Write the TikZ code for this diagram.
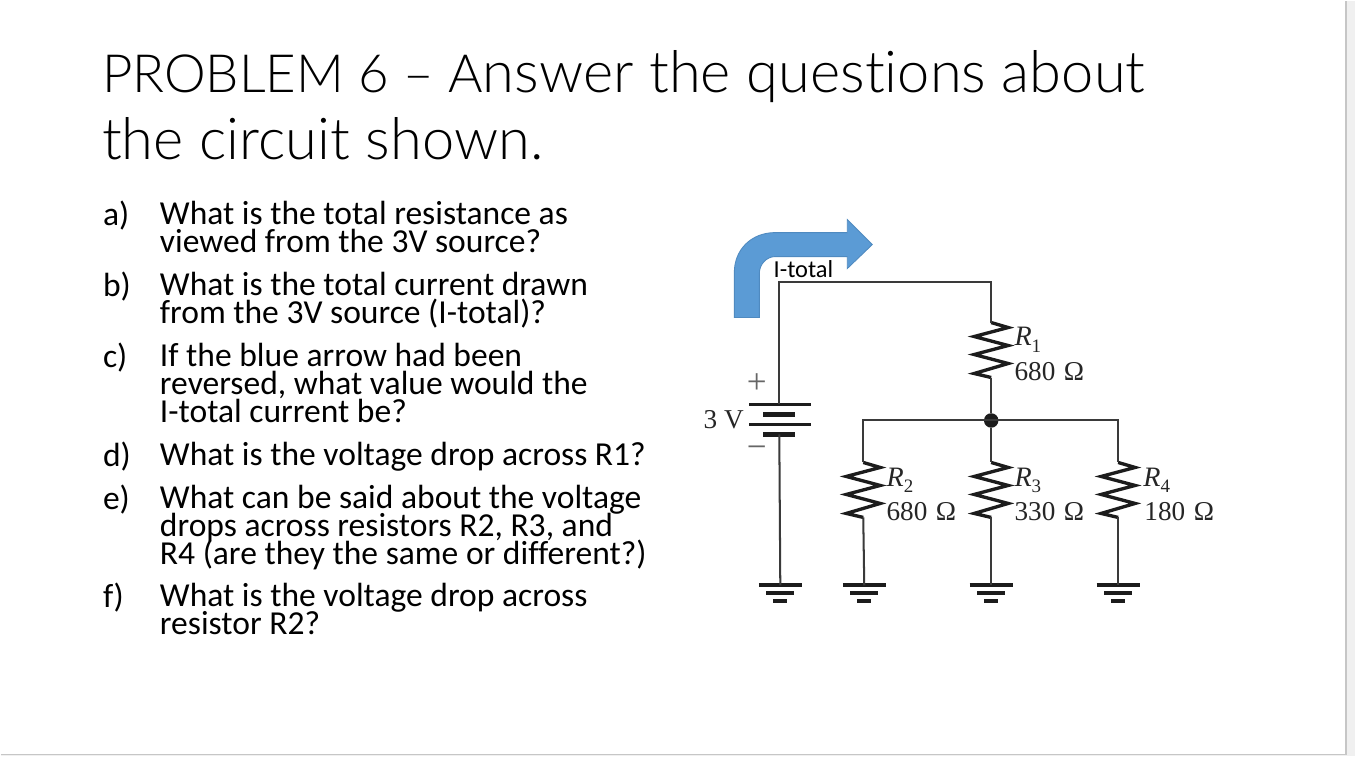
\documentclass[tikz,border=0pt]{standalone}
\usepackage{fontspec}
\setmainfont{Carlito}[Ligatures=CommonOff]
\newfontfamily\titlefont{Lato Light}[Ligatures=CommonOff]
\newfontfamily\serifvalue{Liberation Serif}
\definecolor{slidegray}{HTML}{F0F0F0}
\definecolor{slideline}{HTML}{C6C6C6}
\definecolor{arrowblue}{HTML}{5B9BD5}
\definecolor{arrowedge}{HTML}{4F8AC0}
\definecolor{wirecol}{HTML}{3A3A3A}
\definecolor{symcol}{HTML}{1C1C1C}
\newcommand{\rname}[1]{\textit{R}\raisebox{-3.7pt}{\fontsize{10.8}{11}\selectfont #1}}
\newcommand{\ohmval}[1]{#1\ \kern1pt Ω}
\newcommand{\tightlines}{\lineskiplimit=-100pt\relax}
\newcommand{\titlecaps}[1]{{\fontsize{30}{38}\selectfont #1}}
\tikzset{
  titleline/.style={anchor=base west, inner sep=0pt, font=\titlefont\fontsize{32.9}{38}\selectfont, text=black},
  itemlabel/.style={anchor=north west, inner sep=0pt, font=\fontsize{19.1}{15.9}\selectfont\tightlines},
  itemtext/.style={anchor=north west, inner sep=0pt, align=left, font=\fontsize{19.1}{15.9}\selectfont\tightlines},
  valuelabel/.style={anchor=base west, inner sep=0pt, font=\serifvalue\fontsize{15.5}{16}\selectfont, text=black!85},
  rlabel/.style={anchor=base west, inner sep=0pt, font=\serifvalue\fontsize{16}{16}\selectfont, text=black!85},
  signlabel/.style={inner sep=0pt, font=\serifvalue\fontsize{20}{20}\selectfont, text=black!60},
  wire/.style={draw=wirecol, line width=1.15pt},
  thinplate/.style={draw=symcol, line width=2.2pt},
  thickplate/.style={draw=symcol, line width=2.9pt},
  resistor/.pic={
    \draw[draw=symcol, line width=1.9pt] (0,0) -- (17,5) -- (-17,14) -- (17,23) -- (-17,32) -- (17,41) -- (-17,51) -- (0,55);
    \coordinate (-top) at (0,0);
    \coordinate (-bot) at (0,55);
  },
  ground/.pic={
    \coordinate (-top) at (0,0);
    \draw[thinplate] (-21.5,0) -- (21.5,0);
    \draw[thinplate] (-14,8) -- (14,8);
    \draw[thinplate] (-7,16) -- (7,16);
  }
}
\begin{document}
\begin{tikzpicture}[x=0.02cm,y=-0.02cm]
      % slide
      \fill[slidegray] (0,0) rectangle (1355,756);
      \fill[white] (0,0) rectangle (1346,754);
      \draw[slideline, line width=0.8pt] (0,754) -- (1346,754) -- (1346,0);

      % title
      \node[titleline] (TitleA) at (101,92.3) {\titlecaps{PROBLEM 6 – A}nswer the questions about};
      \node[titleline] (TitleB) at (101,158.5) {the circuit shown.};

      % questions
      \node[itemlabel] (LabA) at (102,200.4) {\strut a)};
      \node[itemtext] (TextA) at (159,200.4) {\strut What is the total resistance as\\viewed from the 3V source?};
      \node[itemlabel] (LabB) at (102,271.4) {\strut b)};
      \node[itemtext] (TextB) at (159,271.4) {\strut What is the total current drawn\\from the 3V source (I-total)?};
      \node[itemlabel] (LabC) at (102,342.4) {\strut c)};
      \node[itemtext] (TextC) at (159,342.4) {\strut If the blue arrow had been\\reversed, what value would the\\I-total current be?};
      \node[itemlabel] (LabD) at (102,441) {\strut d)};
      \node[itemtext] (TextD) at (159,441) {\strut What is the voltage drop across R1?};
      \node[itemlabel] (LabE) at (102,484.4) {\strut e)};
      \node[itemtext] (TextE) at (159,484.4) {\strut What can be said about the voltage\\drops across resistors R2, R3, and\\R4 (are they the same or different?)};
      \node[itemlabel] (LabF) at (102,582.4) {\strut f)};
      \node[itemtext] (TextF) at (159,582.4) {\strut What is the voltage drop across\\resistor R2?};

      % blue arrow
      \filldraw[fill=arrowblue, draw=arrowedge, line width=0.5pt] (734,317) -- (734,272) .. controls (734,249) and (751,232) .. (775,232) -- (847,232) -- (847,219) -- (872,244) -- (847,268) -- (847,256) -- (775,256) .. controls (766,256) and (759,264) .. (759,273) -- (759,317) -- cycle;
      \node[anchor=base west, inner sep=0pt, font=\fontsize{13.9}{14}\selectfont] (Itotal) at (773,276.5) {I-total};

      % corners and junction
      \coordinate (TopL) at (779,281);
      \coordinate (TopR) at (991,281);
      \coordinate (BatTop) at (779,404);
      \coordinate (BatBot) at (779,434);
      \coordinate (BusL) at (863,420);
      \coordinate (BusR) at (1118,420);
      \node[circle, fill=symcol, inner sep=0pt, minimum size=0.29cm] (Junc) at (991,420) {};

      \pic (Rone) at (991,322) {resistor};
      \pic (Rtwo) at (863,462) {resistor};
      \pic (Rthree) at (991,462) {resistor};
      \pic (Rfour) at (1118,462) {resistor};
      \pic (Gbat) at (780,585) {ground};
      \pic (Gtwo) at (864,585) {ground};
      \pic (Gthree) at (991,585) {ground};
      \pic (Gfour) at (1118,585) {ground};

      % battery
      \draw[thinplate] (749,404) -- (811,404);
      \draw[thickplate] (763,414) -- (795,414);
      \draw[thinplate] (749,424) -- (811,424);
      \draw[thickplate] (763,434) -- (795,434);

      % wires
      \draw[wire] (BatTop) -- (TopL) -- (TopR) -- (Rone-top);
      \draw[wire] (Rone-bot) -- (Junc);
      \draw[wire] (Rtwo-top) -- (BusL) -- (BusR) -- (Rfour-top);
      \draw[wire] (Junc) -- (Rthree-top);
      \draw[wire] (BatBot) -- (Gbat-top);
      \draw[wire] (Rtwo-bot) -- (Gtwo-top);
      \draw[wire] (Rthree-bot) -- (Gthree-top);
      \draw[wire] (Rfour-bot) -- (Gfour-top);

      % values
      \node[valuelabel] (Vbat) at (703,428.5) {3 V};
      \node[signlabel] (Plus) at (756.5,383) {+};
      \node[signlabel] (Minus) at (756.5,452) {−};
      \node[rlabel] (NameA) at (1014,345) {\rname{1}};
      \node[valuelabel] (ValA) at (1014,380) {\ohmval{680}};
      \node[rlabel] (NameB) at (886,486) {\rname{2}};
      \node[valuelabel] (ValB) at (886,520) {\ohmval{680}};
      \node[rlabel] (NameC) at (1014,486) {\rname{3}};
      \node[valuelabel] (ValC) at (1014,520) {\ohmval{330}};
      \node[rlabel] (NameD) at (1143,486) {\rname{4}};
      \node[valuelabel] (ValD) at (1144,520) {\ohmval{180}};
\end{tikzpicture}
\end{document}
